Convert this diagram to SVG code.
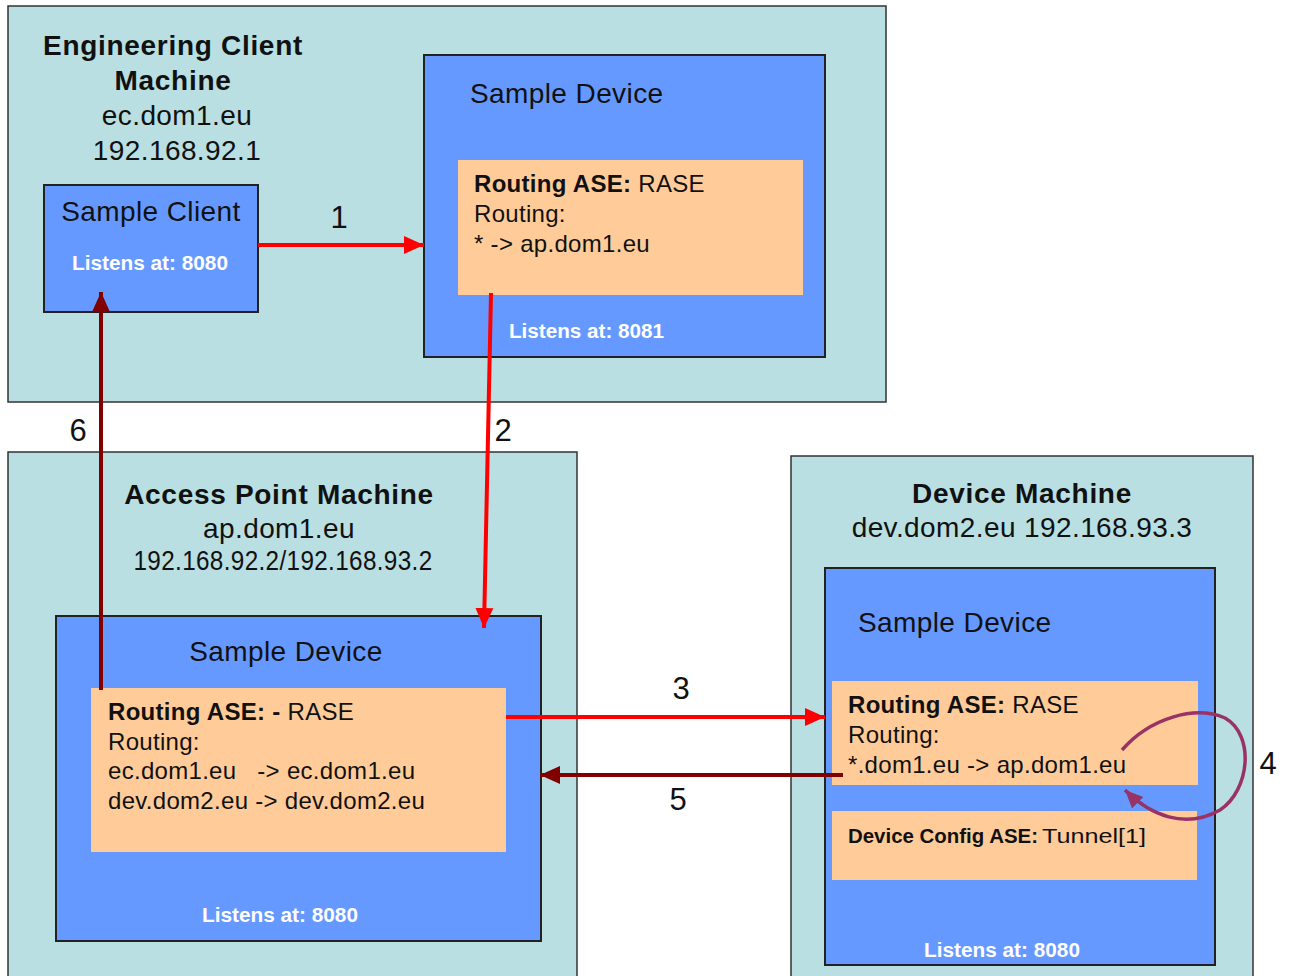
<svg xmlns="http://www.w3.org/2000/svg" width="1290" height="976" viewBox="0 0 1290 976">
<defs>
<style>
.machine{fill:#B9DFE2;stroke:#333;stroke-width:1.5}
.device{fill:#6699FF;stroke:#222;stroke-width:2}
.ase{fill:#FFCC99}
text{font-family:"Liberation Sans",Arial,sans-serif;fill:#111}
.title{font-size:28px;font-weight:bold;text-anchor:middle;letter-spacing:0.7px}
.sub{font-size:28px;text-anchor:middle;letter-spacing:0.4px}
.dev{font-size:28px;letter-spacing:0.4px}
.ase-t{font-size:24px;letter-spacing:0.3px}
.cfg{font-size:20px}
.b{font-weight:bold}
.listen{font-size:20px;font-weight:bold;fill:#fff}
.num{font-size:31px;text-anchor:middle}
.red{stroke:#FF0000;stroke-width:4;fill:none}
.dred{stroke:#800000;stroke-width:4;fill:none}
.purp{stroke:#993366;stroke-width:3.5;fill:none}
</style>
<marker id="ahRed" markerUnits="userSpaceOnUse" markerWidth="22" markerHeight="22" viewBox="0 0 22 22" refX="20" refY="11" orient="auto"><path d="M0,2 L20,11 L0,20 z" fill="#FF0000"/></marker>
<marker id="ahDred" markerUnits="userSpaceOnUse" markerWidth="22" markerHeight="22" viewBox="0 0 22 22" refX="20" refY="11" orient="auto"><path d="M0,2 L20,11 L0,20 z" fill="#800000"/></marker>
<marker id="ahPurp" markerUnits="userSpaceOnUse" markerWidth="20" markerHeight="20" viewBox="0 0 20 20" refX="18" refY="10" orient="auto"><path d="M0,2 L18,10 L0,18 z" fill="#993366"/></marker>
</defs>
<rect width="1290" height="976" fill="#fff"/>

<g id="ec-machine">
<rect class="machine" x="8" y="6" width="878" height="396"/>
<text class="title" x="173" y="55">Engineering Client</text>
<text class="title" x="173" y="90">Machine</text>
<text class="sub" x="177" y="125">ec.dom1.eu</text>
<text class="sub" x="177" y="160">192.168.92.1</text>
</g>

<g id="sample-client">
<rect class="device" x="44" y="185" width="214" height="127"/>
<text class="dev" x="151" y="221" text-anchor="middle">Sample Client</text>
<text class="listen" x="150" y="270" text-anchor="middle" textLength="156" lengthAdjust="spacingAndGlyphs">Listens at: 8080</text>
</g>

<g id="ec-device">
<rect class="device" x="424" y="55" width="401" height="302"/>
<text class="dev" x="470" y="103">Sample Device</text>
<rect class="ase" x="458" y="160" width="345" height="135"/>
<text class="ase-t" x="474" y="192"><tspan class="b">Routing ASE:</tspan> RASE</text>
<text class="ase-t" x="474" y="222">Routing:</text>
<text class="ase-t" x="474" y="252">* -&gt; ap.dom1.eu</text>
<text class="listen" x="509" y="338" textLength="155" lengthAdjust="spacingAndGlyphs">Listens at: 8081</text>
</g>

<g id="ap-machine">
<rect class="machine" x="8" y="452" width="569" height="530"/>
<text class="title" x="279" y="504">Access Point Machine</text>
<text class="sub" x="279" y="538">ap.dom1.eu</text>
<text class="sub" x="283" y="570" font-size="23" textLength="299" lengthAdjust="spacingAndGlyphs">192.168.92.2/192.168.93.2</text>
</g>

<g id="ap-device">
<rect class="device" x="56" y="616" width="485" height="325"/>
<text class="dev" x="286" y="661" text-anchor="middle">Sample Device</text>
<rect class="ase" x="91" y="688" width="415" height="164"/>
<text class="ase-t" x="108" y="720"><tspan class="b">Routing ASE: -</tspan> RASE</text>
<text class="ase-t" x="108" y="750">Routing:</text>
<text class="ase-t" x="108" y="779" xml:space="preserve">ec.dom1.eu   -&gt; ec.dom1.eu</text>
<text class="ase-t" x="108" y="809">dev.dom2.eu -&gt; dev.dom2.eu</text>
<text class="listen" x="280" y="922" text-anchor="middle" textLength="156" lengthAdjust="spacingAndGlyphs">Listens at: 8080</text>
</g>

<g id="dev-machine">
<rect class="machine" x="791" y="456" width="462" height="526"/>
<text class="title" x="1022" y="503">Device Machine</text>
<text class="sub" x="1022" y="537">dev.dom2.eu 192.168.93.3</text>
</g>

<g id="dev-device">
<rect class="device" x="825" y="568" width="390" height="397"/>
<text class="dev" x="858" y="632">Sample Device</text>
<rect class="ase" x="832" y="681" width="366" height="104"/>
<text class="ase-t" x="848" y="713"><tspan class="b">Routing ASE:</tspan> RASE</text>
<text class="ase-t" x="848" y="743">Routing:</text>
<text class="ase-t" x="848" y="773">*.dom1.eu -&gt; ap.dom1.eu</text>
<rect class="ase" x="832" y="811" width="365" height="69"/>
<text class="cfg b" x="848" y="843" textLength="190" lengthAdjust="spacingAndGlyphs">Device Config ASE:</text>
<text class="cfg" x="1042" y="843" textLength="104" lengthAdjust="spacingAndGlyphs">Tunnel[1]</text>
<text class="listen" x="1002" y="957" text-anchor="middle" textLength="156" lengthAdjust="spacingAndGlyphs">Listens at: 8080</text>
</g>

<g id="connectors">
<line class="red" x1="258" y1="245" x2="424" y2="245" marker-end="url(#ahRed)"/>
<line class="red" x1="491" y1="293" x2="484" y2="628" marker-end="url(#ahRed)"/>
<line class="red" x1="506" y1="717" x2="825" y2="717" marker-end="url(#ahRed)"/>
<line class="dred" x1="843" y1="775" x2="540" y2="775" marker-end="url(#ahDred)"/>
<line class="dred" x1="101" y1="690" x2="101" y2="292" marker-end="url(#ahDred)"/>
<path class="purp" d="M1122,750 C1150,718 1195,705 1225,718 C1255,735 1250,790 1220,810 C1185,830 1150,815 1125,790" marker-end="url(#ahPurp)"/>
<text class="num" x="339" y="228">1</text>
<text class="num" x="503" y="441">2</text>
<text class="num" x="681" y="699">3</text>
<text class="num" x="1268" y="774">4</text>
<text class="num" x="678" y="810">5</text>
<text class="num" x="78" y="441">6</text>
</g>
</svg>
